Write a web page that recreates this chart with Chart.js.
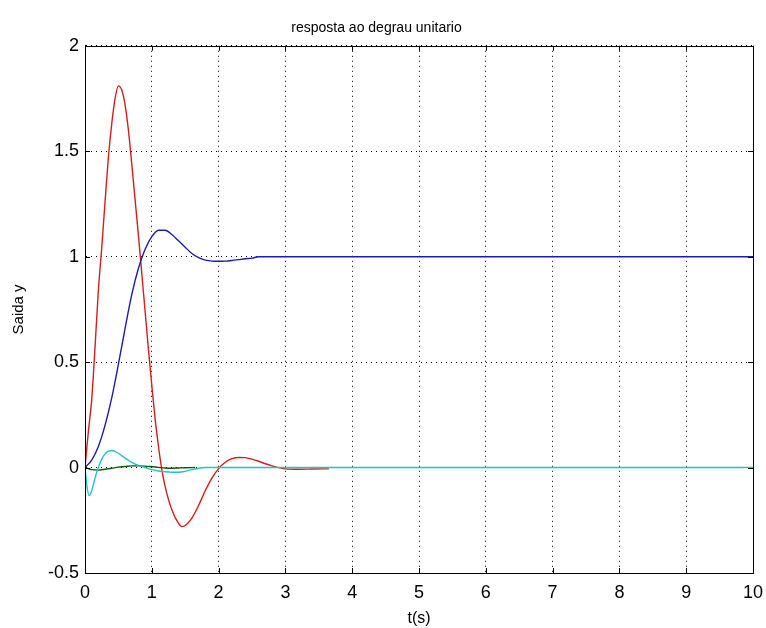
<!DOCTYPE html>
<html>
<head>
<meta charset="utf-8">
<script src="https://cdn.jsdelivr.net/npm/chart.js@4/dist/chart.umd.min.js"></script>
<style>
html,body{margin:0;padding:0;background:#fff;}
#c{display:block;}
</style>
</head>
<body>
<canvas id="c" width="766" height="628"></canvas>
<script>
// ---- data ----
const titleText = "resposta ao degrau unitario";
const xLabel = "t(s)";
const yLabel = "Saida y";
const xTicks = [0,1,2,3,4,5,6,7,8,9,10];
const yTicks = [-0.5,0,0.5,1,1.5,2];

const redT = [0,0.05,0.1,0.15,0.2,0.25,0.3,0.35,0.4,0.45,0.5,0.55,0.6,0.65,0.7,0.75,0.8,0.85,0.9,0.95,1.0,1.05,1.1,1.15,1.2,1.3,1.4,1.45,1.5,1.6,1.7,1.8,1.9,2.0,2.1,2.2,2.3,2.4,2.5,2.6,2.7,2.8,2.9,3.0,3.2,3.4,3.65];
const redY = [0,0.17,0.32,0.57,0.84,1.04,1.26,1.47,1.63,1.75,1.81,1.79,1.72,1.6,1.44,1.27,1.1,0.92,0.74,0.56,0.39,0.23,0.1,-0.01,-0.09,-0.2,-0.265,-0.28,-0.275,-0.24,-0.18,-0.11,-0.05,-0.005,0.025,0.042,0.048,0.047,0.04,0.03,0.018,0.008,0.0,-0.006,-0.008,-0.007,-0.006];

const blueT = [0,0.1,0.2,0.3,0.4,0.5,0.6,0.7,0.8,0.9,1.0,1.1,1.2,1.3,1.4,1.5,1.6,1.7,1.8,1.9,2.0,2.1,2.2,2.3,2.4,2.5,2.6,10];
const blueY = [0,0.035,0.1,0.2,0.33,0.49,0.66,0.82,0.945,1.035,1.095,1.125,1.125,1.105,1.075,1.045,1.015,0.995,0.984,0.979,0.978,0.979,0.982,0.986,0.99,0.993,1.0,1.0];

const cyanT = [0,0.03,0.065,0.1,0.15,0.2,0.25,0.3,0.35,0.4,0.45,0.5,0.6,0.7,0.8,0.9,1.0,1.1,1.2,1.3,1.4,1.5,1.6,1.7,1.8,10];
const cyanY = [0,-0.09,-0.133,-0.11,-0.05,0.0,0.04,0.065,0.078,0.081,0.077,0.068,0.045,0.025,0.01,0.0,-0.01,-0.016,-0.02,-0.022,-0.022,-0.018,-0.01,-0.003,0,0];

const greenT = [0,0.05,0.1,0.2,0.3,0.4,0.5,0.6,0.7,0.8,0.9,1.0,1.1,1.2,1.3,1.4,1.5,1.65];
const greenY = [0,-0.005,-0.01,-0.012,-0.008,-0.003,0.002,0.005,0.008,0.008,0.007,0.004,0.001,-0.002,-0.003,-0.002,-0.001,0];

function pts(ts, ys){ return ts.map((t,i)=>({x:t, y:ys[i]})); }

const frame = {
  id:'frame',
  beforeDraw(chart){
    const c=chart.ctx; c.save(); c.fillStyle='#fff'; c.fillRect(0,0,chart.width,chart.height); c.restore();
  },
  afterDatasetsDraw(chart){
    const c=chart.ctx, a=chart.chartArea, xs=chart.scales.x, ys=chart.scales.y;
    c.save();
    c.strokeStyle='#000'; c.lineWidth=1;
    c.strokeRect(Math.round(a.left)+0.5, Math.round(a.top)+0.5, Math.round(a.right-a.left), Math.round(a.bottom-a.top));
    c.beginPath();
    const L=5;
    xs.ticks.forEach(t=>{
      const px=Math.round(xs.getPixelForValue(t.value))+0.5;
      c.moveTo(px,a.bottom); c.lineTo(px,a.bottom-L);
      c.moveTo(px,a.top); c.lineTo(px,a.top+L);
    });
    ys.ticks.forEach(t=>{
      const py=Math.round(ys.getPixelForValue(t.value))+0.5;
      c.moveTo(a.left,py); c.lineTo(a.left+L,py);
      c.moveTo(a.right,py); c.lineTo(a.right-L,py);
    });
    c.stroke();
    c.restore();
  }
};

const common = {pointRadius:0, borderWidth:1.4, fill:false, cubicInterpolationMode:'monotone'};
const fam = 'Liberation Sans, Arial, sans-serif';

new Chart(document.getElementById('c'), {
  type:'line',
  data:{
    datasets:[
      Object.assign({label:'c', data:pts(cyanT,cyanY), borderColor:'#22c4c4', order:1}, common),
      Object.assign({label:'g', data:pts(greenT,greenY), borderColor:'#0a5a0a', order:2}, common),
      Object.assign({label:'b', data:pts(blueT,blueY), borderColor:'#1c1cb0', order:3}, common),
      Object.assign({label:'r', data:pts(redT,redY), borderColor:'#d81c1c', order:4}, common)
    ]
  },
  options:{
    responsive:false,
    animation:false,
    layout:{padding:{left:0,right:13,top:0,bottom:0}},
    plugins:{
      legend:{display:false},
      tooltip:{enabled:false},
      title:{display:true, text:titleText, color:'#000',
        font:{family:fam, size:14, weight:'normal'},
        padding:{top:20,bottom:9}}
    },
    scales:{
      x:{
        type:'linear', min:0, max:10,
        afterBuildTicks(s){ s.ticks = xTicks.map(v=>({value:v})); },
        afterFit(s){ s.height = 55; s.paddingLeft = 0; s.paddingRight = 0; },
        ticks:{color:'#000', padding:9, maxRotation:0,
          callback:(v)=>String(v),
          font:{family:fam, size:18}},
        grid:{color:'#000', lineWidth:1, drawTicks:false},
        border:{display:true, color:'#000', dash:[1,4]},
        title:{display:true, text:xLabel, color:'#000',
          font:{family:fam, size:16},
          padding:{top:-15,bottom:0}}
      },
      y:{
        type:'linear', min:-0.5, max:2,
        afterBuildTicks(s){ s.ticks = yTicks.map(v=>({value:v})); },
        afterFit(s){ s.width = 85; s.paddingTop = 0; s.paddingBottom = 0; },
        ticks:{color:'#000', padding:6,
          callback:(v)=>String(v),
          font:{family:fam, size:18}},
        grid:{color:'#000', lineWidth:1, drawTicks:false},
        border:{display:true, color:'#000', dash:[1,4]},
        title:{display:true, text:yLabel, color:'#000',
          font:{family:fam, size:15},
          padding:{top:10,bottom:0}}
      }
    }
  },
  plugins:[frame]
});
</script>
</body>
</html>
